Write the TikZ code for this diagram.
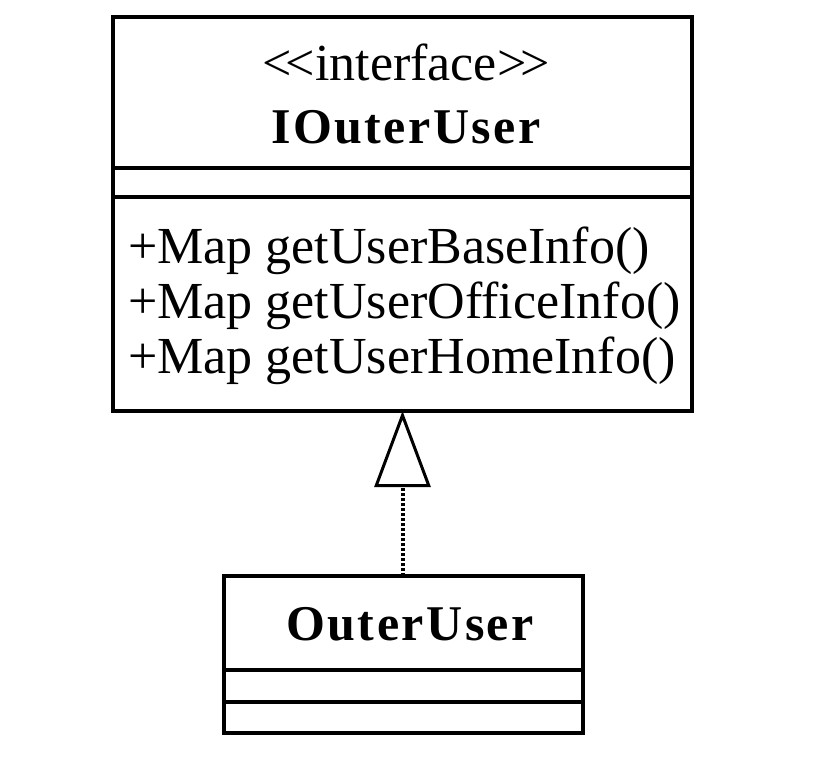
\documentclass[tikz,border=0pt]{standalone}
\usepackage{fontspec}
\setmainfont{Liberation Serif}
\usetikzlibrary{positioning, arrows.meta}

\begin{document}
\begin{tikzpicture}[x=1pt, y=-1pt,
    part/.style={draw, line width=4pt, inner sep=0pt, outer sep=0pt},
    umltext/.style={font=\fontsize{52}{57}\selectfont, inner sep=0pt},
    umlname/.style={inner sep=0pt, font=\fontsize{50}{55}\selectfont\bfseries\addfontfeature{LetterSpace=5}},
    realize/.style={line width=4pt, dash pattern=on 3pt off 2pt,
        -{Triangle[open, length=76pt, width=56pt, line width=3pt]}}]

    % =========================================================
    % 1. KHUNG HÌNH
    % =========================================================
    \useasboundingbox (0,0) rectangle (834,758);

    % =========================================================
    % 2. LỚP GIAO DIỆN IOuterUser
    % =========================================================
    \node[part, minimum width=579pt, minimum height=151pt] (ifaceHead) at (402.5,92.5) {};
    \node[part, minimum width=579pt, minimum height=29pt, below=0pt of ifaceHead] (ifaceAttr) {};
    \node[part, minimum width=579pt, minimum height=214pt, below=0pt of ifaceAttr] (ifaceOps) {};

    \node[umltext, anchor=base] (ifaceStereo) at (406,80) {<\kern-0.12em<interface>\kern-0.12em>};
    \node[umlname, anchor=base] (ifaceName) at (406,143) {IOuterUser};

    % Các phương thức
    \node[umltext, anchor=base west] (opBase) at (128,263) {+Map getUserBaseInfo()};
    \node[umltext, anchor=base west] (opOffice) at (128,318) {+Map getUserOfficeInfo()};
    \node[umltext, anchor=base west] (opHome) at (128,373) {+Map getUserHomeInfo()};

    % =========================================================
    % 3. LỚP OuterUser
    % =========================================================
    \node[part, minimum width=359pt, minimum height=94pt] (userHead) at (403.5,623) {};
    \node[part, minimum width=359pt, minimum height=32pt, below=0pt of userHead] (userAttr) {};
    \node[part, minimum width=359pt, minimum height=31pt, below=0pt of userAttr] (userOps) {};

    \node[umlname, anchor=base] (userName) at (410,640) {OuterUser};

    % =========================================================
    % 4. QUAN HỆ HIỆN THỰC (realization)
    % =========================================================
    \draw[realize] (userHead.north -| ifaceOps.south) -- (ifaceOps.south);

\end{tikzpicture}
\end{document}
